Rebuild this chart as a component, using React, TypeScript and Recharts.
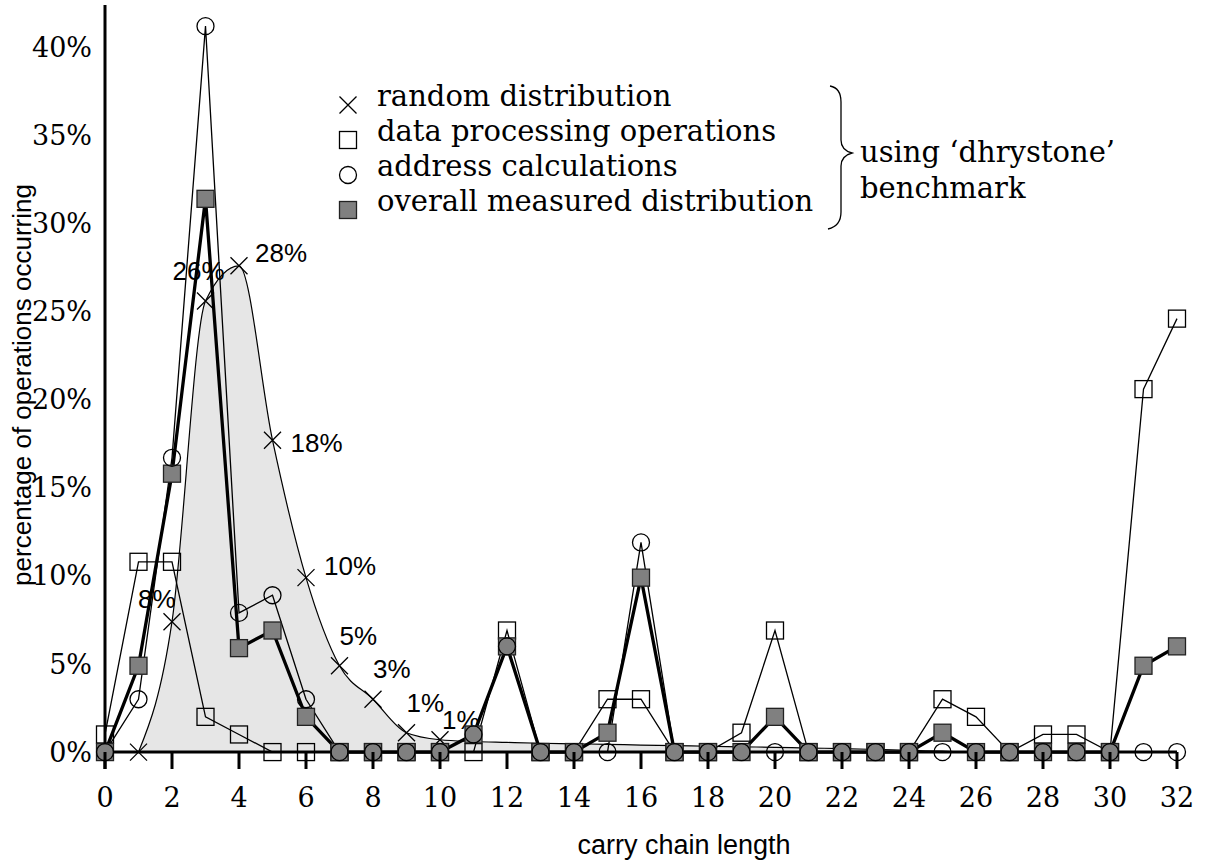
import React from "react";
import { ComposedChart, Area, Line, XAxis, YAxis, ReferenceLine, Legend } from "recharts";

// carry chain length 0..32, values in percent
const chainLengths = [0, 1, 2, 3, 4, 5, 6, 7, 8, 9, 10, 11, 12, 13, 14, 15, 16, 17, 18, 19, 20, 21, 22, 23, 24, 25, 26, 27, 28, 29, 30, 31, 32];
const randomDist = [null, 0, 7.4, 25.6, 27.6, 17.7, 9.9, 4.9, 3.0, 1.1, 0.7, 0.6, 0.55, 0.5, 0.47, 0.44, 0.4, 0.37, 0.33, 0.3, 0.27, 0.23, 0.2, 0.15, 0.1, 0.05, 0, 0, 0, 0, 0, 0, 0];
const randomMarkerLengths = [1, 2, 3, 4, 5, 6, 7, 8, 9, 10];
const randomLabels = ["", "", "8%", "26%", "28%", "18%", "10%", "5%", "3%", "1%", "1%"];
const dataProcessing = [1.0, 10.8, 10.8, 2.0, 1.0, 0, 0, 0, 0, 0, 0, 0, 6.9, 0, 0, 3.0, 3.0, 0, 0, 1.1, 6.9, 0, 0, 0, 0, 3.0, 2.0, 0, 1.0, 1.0, 0, 20.6, 24.6];
const addressCalc = [0, 3.0, 16.7, 41.2, 7.9, 8.9, 3.0, 0, 0, 0, 0, 1.0, 6.0, 0, 0, 0, 11.9, 0, 0, 0, 0, 0, 0, 0, 0, 0, 0, 0, 0, 0, 0, 0, 0];
const overallMeasured = [0, 4.9, 15.8, 31.4, 5.9, 6.9, 2.0, 0, 0, 0, 0, 1.0, 6.0, 0, 0, 1.1, 9.9, 0, 0, 0, 2.0, 0, 0, 0, 0, 1.1, 0, 0, 0, 0, 0, 4.9, 6.0];
const xTicks = [0, 2, 4, 6, 8, 10, 12, 14, 16, 18, 20, 22, 24, 26, 28, 30, 32];
const yTicks = [0, 5, 10, 15, 20, 25, 30, 35, 40];
const legendNames = ["random distribution", "data processing operations", "address calculations", "overall measured distribution"];
const braceNote = ["using \u2018dhrystone\u2019", "benchmark"];

const rows = chainLengths.map((x, i) => ({
  x,
  random: randomDist[i],
  dataProc: dataProcessing[i],
  address: addressCalc[i],
  overall: overallMeasured[i],
  note: randomLabels[i] ?? "",
}));

const SERIF = "'DejaVu Serif', serif";
const SANS = "'Liberation Sans', Arial, sans-serif";
const GREY = "#808080";
const M = 8.5;

// where each percentage note sits relative to its cross
const noteOffsets: Record<number, [number, number]> = {
  2: [-34, -23], 3: [-33, -30], 4: [16, -13], 5: [18, 3], 6: [18, -12],
  7: [0, -30], 8: [0, -30], 9: [0, -30], 10: [2, -20],
};

const cross = (cx: number, cy: number) =>
  `M${cx - M},${cy - M}L${cx + M},${cy + M}M${cx - M},${cy + M}L${cx + M},${cy - M}`;

const CrossDot = (p: any) => {
  const { cx, cy, payload, index } = p;
  if (cx == null || cy == null || !payload || !randomMarkerLengths.includes(payload.x)) return <g key={`c${index}`} />;
  const off = noteOffsets[payload.x];
  return (
    <g key={`c${index}`}>
      <path d={cross(cx, cy)} stroke="#000" strokeWidth={1.3} fill="none" />
      {payload.note && off ? (
        <text x={cx + off[0]} y={cy + off[1]} dominantBaseline="central" fontFamily={SANS} fontSize={26} fill="#000">
          {payload.note}
        </text>
      ) : null}
    </g>
  );
};

const OpenSquare = (p: any) =>
  p.cx == null || p.cy == null ? <g key={`s${p.index}`} /> : (
    <rect key={`s${p.index}`} x={p.cx - M} y={p.cy - M} width={2 * M} height={2 * M} fill="none" stroke="#000" strokeWidth={1.3} />
  );

const OpenCircle = (p: any) =>
  p.cx == null || p.cy == null ? <g key={`o${p.index}`} /> : (
    <circle key={`o${p.index}`} cx={p.cx} cy={p.cy} r={M} fill="none" stroke="#000" strokeWidth={1.3} />
  );

const GreySquare = (p: any) =>
  p.cx == null || p.cy == null ? <g key={`g${p.index}`} /> : (
    <rect key={`g${p.index}`} x={p.cx - M} y={p.cy - M} width={2 * M} height={2 * M} fill={GREY} stroke="#222" strokeWidth={1.3} />
  );

const XTick = (p: any) => {
  const { x, y, payload } = p;
  return (
    <g>
      <line x1={x} x2={x} y1={y - 17} y2={y} stroke="#000" strokeWidth={3} />
      <text x={x} y={y + 38} textAnchor="middle" fontFamily={SERIF} fontSize={27} fill="#000">
        {payload.value}
      </text>
    </g>
  );
};

const XTitle = () => (
  <text x={684} y={854} textAnchor="middle" fontFamily={SANS} fontSize={27} fill="#000">
    carry chain length
  </text>
);

const YTitle = () => (
  <text x={22} y={385} transform="rotate(-90 22 385)" textAnchor="middle" dominantBaseline="central" fontFamily={SANS} fontSize={26} fill="#000">
    percentage of operations occurring
  </text>
);

const legendMarker = (i: number, cx: number, cy: number) => {
  if (i === 0) return <path d={cross(cx, cy)} stroke="#000" strokeWidth={1.3} fill="none" />;
  if (i === 1) return <rect x={cx - M} y={cy - M} width={2 * M} height={2 * M} fill="#fff" stroke="#000" strokeWidth={1.3} />;
  if (i === 2) return <circle cx={cx} cy={cy} r={M} fill="#fff" stroke="#000" strokeWidth={1.3} />;
  return <rect x={cx - M} y={cy - M} width={2 * M} height={2 * M} fill={GREY} stroke="#222" strokeWidth={1.3} />;
};

const LegendBox = () => (
  <svg width={1206} height={260} style={{ display: "block" }}>
    {legendNames.map((name, i) => {
      const cy = 105 + i * 35;
      return (
        <g key={name}>
          {legendMarker(i, 348, cy)}
          <text x={377} y={cy + 1} fontFamily={SERIF} fontSize={29} fill="#000">
            {name}
          </text>
        </g>
      );
    })}
    <path
      d="M830,86 Q841,88 841,102 L841,140 Q841,150 852,153 Q841,156 841,166 L841,212 Q841,226 828,229"
      fill="none"
      stroke="#000"
      strokeWidth={1.3}
    />
    <text x={860} y={162} fontFamily={SERIF} fontSize={29} fill="#000">{braceNote[0]}</text>
    <text x={860} y={198} fontFamily={SERIF} fontSize={29} fill="#000">{braceNote[1]}</text>
  </svg>
);

export default function App() {
  return (
    <div style={{ position: "absolute", left: 0, top: 0, width: 1206, height: 867, background: "#fff" }}>
      <ComposedChart width={1206} height={867} data={rows} margin={{ top: 5, right: 29, bottom: 0, left: 0 }}>
        <XAxis
          dataKey="x"
          type="number"
          domain={[0, 32]}
          ticks={xTicks}
          axisLine={false}
          tickLine={false}
          tickSize={0}
          tickMargin={0}
          height={98}
          tick={<XTick />}
          interval={0}
          label={<XTitle />}
        />
        <YAxis
          type="number"
          domain={[-0.96, 42.4]}
          ticks={yTicks}
          width={105}
          axisLine={{ stroke: "#000", strokeWidth: 3 }}
          tickLine={false}
          tickMargin={7}
          tickFormatter={(v: number) => `${v}%`}
          tick={{ fontFamily: SERIF, fontSize: 27, fill: "#000" }}
          label={<YTitle />}
        />
        <Legend layout="vertical" align="center" verticalAlign="middle" content={<LegendBox />} wrapperStyle={{ left: 0, top: 0, width: 1206, height: 260 }} />
        <Area
          dataKey="random"
          name={legendNames[0]}
          type="monotone"
          baseValue={0}
          fill="#e6e6e6"
          fillOpacity={1}
          stroke="#000"
          strokeWidth={1.2}
          dot={CrossDot}
          activeDot={false}
          isAnimationActive={false}
        />
        <ReferenceLine y={0} stroke="#000" strokeWidth={3} />
        <Line dataKey="dataProc" name={legendNames[1]} type="linear" stroke="#000" strokeWidth={1.3} dot={OpenSquare} activeDot={false} isAnimationActive={false} />
        <Line dataKey="overall" name={legendNames[3]} type="linear" stroke="#000" strokeWidth={3.3} dot={GreySquare} activeDot={false} isAnimationActive={false} />
        <Line dataKey="address" name={legendNames[2]} type="linear" stroke="#000" strokeWidth={1.3} dot={OpenCircle} activeDot={false} isAnimationActive={false} />
      </ComposedChart>
    </div>
  );
}
